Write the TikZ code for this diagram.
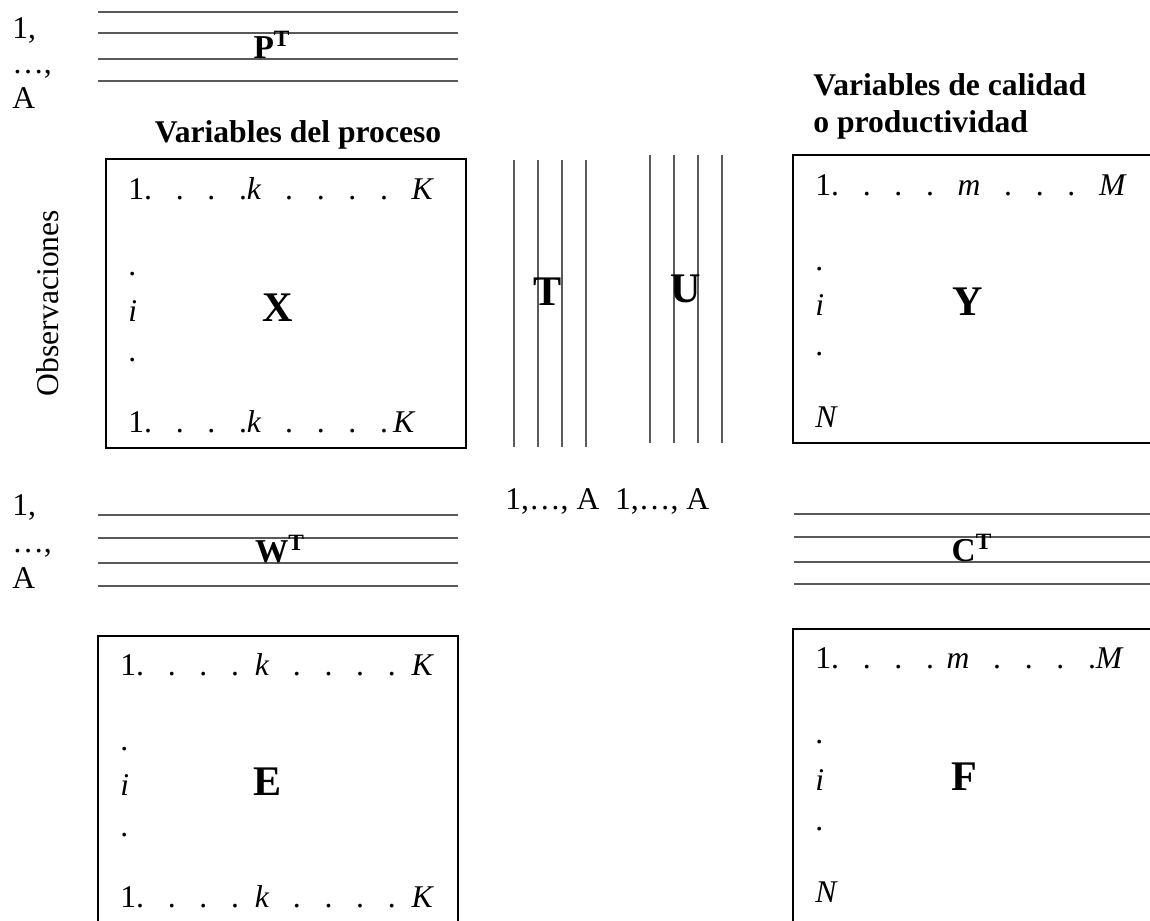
\documentclass[tikz,border=0pt]{standalone}
\usepackage{fontspec}
\setmainfont{Liberation Serif}
\usetikzlibrary{positioning}

\newcommand{\dgap}{\hspace{0.75em}}

\begin{document}
\begin{tikzpicture}[
		x=0.02cm, y=-0.02cm,
		frame/.style={draw=black, line width=1.1pt},
		rule/.style={draw=black!65, line width=0.6pt},
		txt/.style={inner sep=0pt, anchor=base west, font=\fontsize{18}{21}\selectfont},
		head/.style={txt, font=\fontsize{18}{21}\selectfont\bfseries},
		big/.style={inner sep=0pt, anchor=base, font=\fontsize{24}{28}\selectfont\bfseries},
		trans/.style={inner sep=0pt, anchor=base, font=\fontsize{19}{22}\selectfont\bfseries}
		]
		
		\clip (0,0) rectangle (1150,920);
		
		% Loadings P^T (top left)
		\foreach \y in {12,33,59,81} \draw[rule] (98,\y) -- (458,\y);
		\node[trans] (pt) at (272,58) {P\textsuperscript{T}};
		\node[txt] (pa1) at (12,38) {1,};
		\node[txt] (pa2) at (12,73) {…,};
		\node[txt] (pa3) at (12,108) {A};
		
		% Process variables X
		\node[head, anchor=base] (hx) at (298,142) {Variables del proceso};
		\draw[frame] (106,159) rectangle (466,448);
		\node[txt, anchor=center, rotate=90] (obs) at (48,303) {Observaciones};
		\node[txt] (xr1) at (128,199) {1.\dgap.\dgap.\dgap.\textit{k}\dgap.\dgap.\dgap.\dgap.\dgap\textit{K}};
		\node[txt] (xd1) at (128,275) {.};
		\node[txt] (xi) at (128,321) {\textit{i}};
		\node[txt] (xd2) at (128,361) {.};
		\node[txt] (xr2) at (128,432) {1.\dgap.\dgap.\dgap.\textit{k}\dgap.\dgap.\dgap.\dgap.\,\textit{K}};
		\node[big] (xm) at (278,321) {X};
		
		% Scores T and U
		\foreach \x in {514,538,562,586} \draw[rule] (\x,160) -- (\x,447);
		\node[big] (tm) at (548,305) {T};
		\foreach \x in {650,674,698,722} \draw[rule] (\x,155) -- (\x,443);
		\node[big] (um) at (686,302) {U};
		\node[txt] (tua) at (505,509) {1,…, A\ \ 1,…, A};
		
		% Quality variables Y
		\node[head] (hy1) at (813,95) {Variables de calidad};
		\node[head] (hy2) at (813,132) {o productividad};
		\draw[frame] (793,155) rectangle (1160,443);
		\node[txt] (yr1) at (815,195) {1.\dgap.\dgap.\dgap.\dgap\textit{m}\dgap.\dgap.\dgap.\dgap\textit{M}};
		\node[txt] (yd1) at (815,270) {.};
		\node[txt] (yi) at (815,315) {\textit{i}};
		\node[txt] (yd2) at (815,355) {.};
		\node[txt] (yn) at (815,427) {\textit{N}};
		\node[big] (ym) at (968,315) {Y};
		
		% Weights W^T
		\foreach \y in {515,538,563,586} \draw[rule] (98,\y) -- (458,\y);
		\node[trans] (wt) at (280,562) {W\textsuperscript{T}};
		\node[txt] (wa1) at (12,515) {1,};
		\node[txt] (wa2) at (12,552) {…,};
		\node[txt] (wa3) at (12,588) {A};
		
		% Residuals E
		\draw[frame] (98,636) rectangle (458,930);
		\node[txt] (er1) at (120,675) {1.\dgap.\dgap.\dgap.\hspace{0.5em}\textit{k}\dgap.\dgap.\dgap.\dgap.\hspace{0.5em}\textit{K}};
		\node[txt] (ed1) at (120,750) {.};
		\node[txt] (ei) at (120,795) {\textit{i}};
		\node[txt] (ed2) at (120,836) {.};
		\node[txt] (er2) at (120,907) {1.\dgap.\dgap.\dgap.\hspace{0.5em}\textit{k}\dgap.\dgap.\dgap.\dgap.\hspace{0.5em}\textit{K}};
		\node[big] (em) at (268,795) {E};
		
		% Weights C^T
		\foreach \y in {514,537,562,584} \draw[rule] (794,\y) -- (1160,\y);
		\node[trans] (ct) at (972,561) {C\textsuperscript{T}};
		
		% Residuals F
		\draw[frame] (793,629) rectangle (1160,930);
		\node[txt] (fr1) at (815,668) {1.\dgap.\dgap.\dgap.\hspace{0.4em}\textit{m}\dgap.\dgap.\dgap.\dgap.\textit{M}};
		\node[txt] (fd1) at (815,743) {.};
		\node[txt] (fi) at (815,790) {\textit{i}};
		\node[txt] (fd2) at (815,830) {.};
		\node[txt] (fn) at (815,902) {\textit{N}};
		\node[big] (fm) at (964,790) {F};
		
	\end{tikzpicture}
\end{document}
